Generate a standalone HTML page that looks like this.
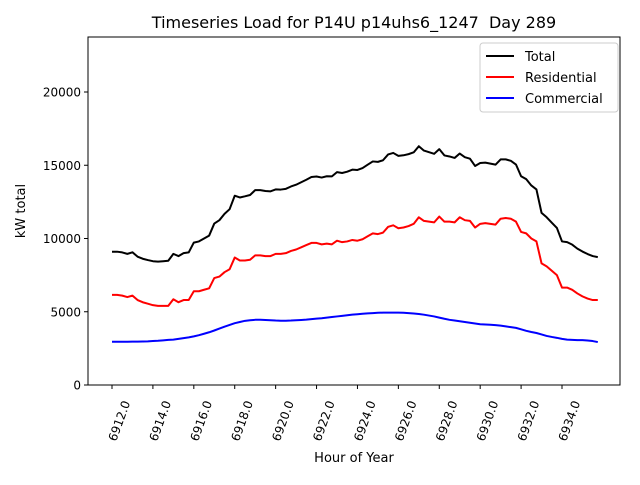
<!DOCTYPE html>
<html><head><meta charset="utf-8"><style>
body{margin:0;background:#fff;font-family:"Liberation Sans","DejaVu Sans",sans-serif}
svg text{font-family:"DejaVu Sans","Liberation Sans",sans-serif}
</style></head><body>
<svg id="c" width="640" height="480" xmlns="http://www.w3.org/2000/svg">
<rect width="640" height="480" fill="#fff"/>
<text x="354" y="28" font-size="16" text-anchor="middle" style="white-space:pre">Timeseries Load for P14U p14uhs6_1247  Day 289</text>
<g id="marks"></g>
<g id="axes"></g>
<text x="354" y="462" font-size="13" text-anchor="middle">Hour of Year</text>
<text transform="translate(25,211) rotate(-90)" font-size="13" text-anchor="middle">kW total</text>
<g>
<rect x="480" y="43" width="138" height="69" fill="#fff" stroke="#ccc" rx="3"/>
<g><line x1="486" y1="56" x2="514" y2="56" stroke="#000" stroke-width="2"/><text x="525" y="61" font-size="13">Total</text></g>
<g><line x1="486" y1="77" x2="514" y2="77" stroke="red" stroke-width="2"/><text x="525" y="82" font-size="13">Residential</text></g>
<g><line x1="486" y1="98" x2="514" y2="98" stroke="blue" stroke-width="2"/><text x="525" y="103" font-size="13">Commercial</text></g>
</g>
</svg>
<script>
const startHour = 6912, stepHour = 0.25;
const xTicks = [6912,6914,6916,6918,6920,6922,6924,6926,6928,6930,6932,6934];
const yTicks = [0,5000,10000,15000,20000];
const totalKw = [9100,9100,9050,8950,9060,8760,8620,8530,8450,8420,8450,8480,8950,8800,9000,9050,9720,9800,10000,10200,11020,11250,11680,12000,12920,12800,12880,12970,13300,13300,13240,13220,13350,13340,13390,13550,13670,13840,14010,14200,14230,14160,14250,14240,14530,14470,14560,14700,14680,14810,15040,15260,15230,15340,15740,15840,15640,15680,15760,15880,16300,16000,15890,15780,16100,15670,15600,15500,15800,15550,15450,14950,15150,15180,15110,15040,15400,15400,15300,15050,14250,14050,13620,13350,11750,11450,11080,10720,9800,9750,9580,9310,9110,8940,8800,8730];
const residentialKw = [6150,6150,6100,6000,6100,5800,5650,5550,5450,5400,5400,5400,5850,5650,5800,5800,6400,6400,6500,6600,7300,7400,7700,7900,8700,8500,8500,8550,8850,8850,8800,8800,8950,8950,9000,9150,9250,9400,9550,9700,9700,9600,9650,9600,9850,9750,9800,9900,9850,9950,10150,10350,10300,10400,10800,10900,10700,10750,10850,11000,11450,11200,11150,11100,11500,11150,11150,11100,11450,11250,11200,10750,11000,11050,11000,10950,11350,11400,11350,11150,10450,10350,10000,9800,8300,8100,7800,7500,6650,6650,6500,6250,6050,5900,5800,5800];
const commercialKw = [2950,2950,2950,2950,2960,2960,2970,2980,3000,3020,3050,3080,3100,3150,3200,3250,3320,3400,3500,3600,3720,3850,3980,4100,4220,4300,4380,4420,4450,4450,4440,4420,4400,4390,4390,4400,4420,4440,4460,4500,4530,4560,4600,4640,4680,4720,4760,4800,4830,4860,4890,4910,4930,4940,4940,4940,4940,4930,4910,4880,4850,4800,4740,4680,4600,4520,4450,4400,4350,4300,4250,4200,4150,4130,4110,4090,4050,4000,3950,3900,3800,3700,3620,3550,3450,3350,3280,3220,3150,3100,3080,3060,3060,3040,3000,2930];

const NS="http://www.w3.org/2000/svg";
const L=88,R=620,T=37,B=385;
const xS=h=>112+(h-6912)*(450/22);
const yS=v=>385-v*(293/20000);
function mk(tag,attrs,parent){const e=document.createElementNS(NS,tag);for(const k in attrs)e.setAttribute(k,attrs[k]);parent.appendChild(e);return e;}
const axes=document.getElementById('axes'), marks=document.getElementById('marks');
function series(arr,color,name){
  const d=arr.map((v,i)=>(i?'L':'M')+xS(startHour+i*stepHour).toFixed(2)+','+yS(v).toFixed(2)).join('');
  const p=mk('path',{d:d,fill:'none',stroke:color,'stroke-width':2,'stroke-linejoin':'round'},marks);
  
  
}
series(totalKw,'#000','total-line');
series(residentialKw,'red','residential-line');
series(commercialKw,'blue','commercial-line');
const frame=mk('rect',{x:L,y:T,width:R-L,height:B-T,fill:'none',stroke:'#000','stroke-width':1},axes);


xTicks.forEach(h=>{
  const x=xS(h);
  mk('line',{x1:x,y1:B,x2:x,y2:B+4,stroke:'#000'},axes);
  const t=mk('text',{transform:`translate(${x+4},${B+57}) rotate(-70)`,'font-size':12},axes);
  t.textContent=h.toFixed(1);
  
  
});
yTicks.forEach(v=>{
  const y=yS(v);
  mk('line',{x1:L-4,y1:y,x2:L,y2:y,stroke:'#000'},axes);
  const t=mk('text',{x:L-7,y:y+4.5,'font-size':12,'text-anchor':'end'},axes);
  t.textContent=v;
  
  
});
</script>
</body></html>
